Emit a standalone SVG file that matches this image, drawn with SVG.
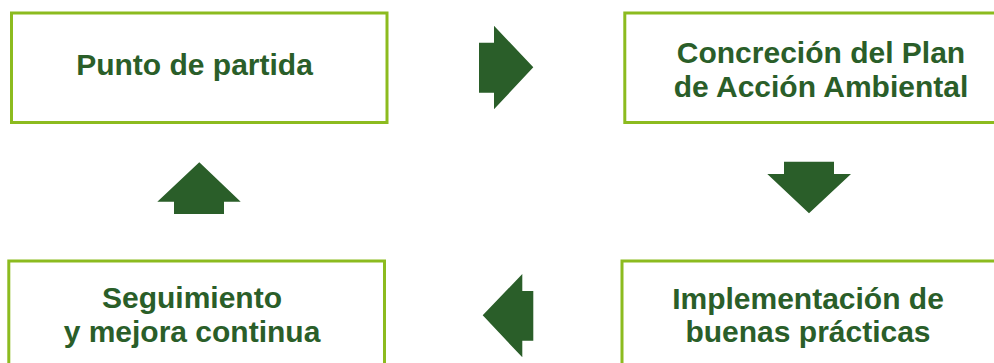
<svg xmlns="http://www.w3.org/2000/svg" width="994" height="363" viewBox="0 0 994 363">
<style>
.box{fill:#fff;stroke:#8cbb1f;stroke-width:3}
.lbl{font-family:"Liberation Sans",Arial,sans-serif;font-weight:bold;font-size:30px;fill:#2a5e29;text-anchor:middle}
.arr{fill:#2a5e29}
</style>
<rect width="994" height="363" fill="#fff"/>
<g id="n1"><rect class="box" x="11.5" y="13" width="375.5" height="109.5"/><text class="lbl" x="194.5" y="75">Punto de partida</text></g>
<g id="n2"><rect class="box" x="624.8" y="13" width="400" height="109.5"/><text class="lbl" x="821" y="63">Concreción del Plan</text><text class="lbl" x="821" y="97">de Acción Ambiental</text></g>
<g id="n3"><rect class="box" x="8.8" y="261" width="375.7" height="130"/><text class="lbl" x="192" y="307.5">Seguimiento</text><text class="lbl" x="192" y="342">y mejora continua</text></g>
<g id="n4"><rect class="box" x="622" y="261" width="400" height="130"/><text class="lbl" x="808" y="308.5">Implementación de</text><text class="lbl" x="808" y="342">buenas prácticas</text></g>
<g id="connectors">
<polygon class="arr" points="479,42.7 494,42.7 494,25.7 533.3,67.3 494,109.3 494,92.7 479,92.7"/>
<polygon class="arr" points="784,161.7 834,161.7 834,174 851,174 809,213.3 767.3,174 784,174"/>
<polygon class="arr" points="533.3,291 522.3,291 522.3,274 482.7,315.3 522.3,357.3 522.3,340.7 533.3,340.7"/>
<polygon class="arr" points="174,214 224,214 224,201.7 240.7,201.7 199.3,162.3 157.3,201.7 174,201.7"/>
</g>
</svg>
